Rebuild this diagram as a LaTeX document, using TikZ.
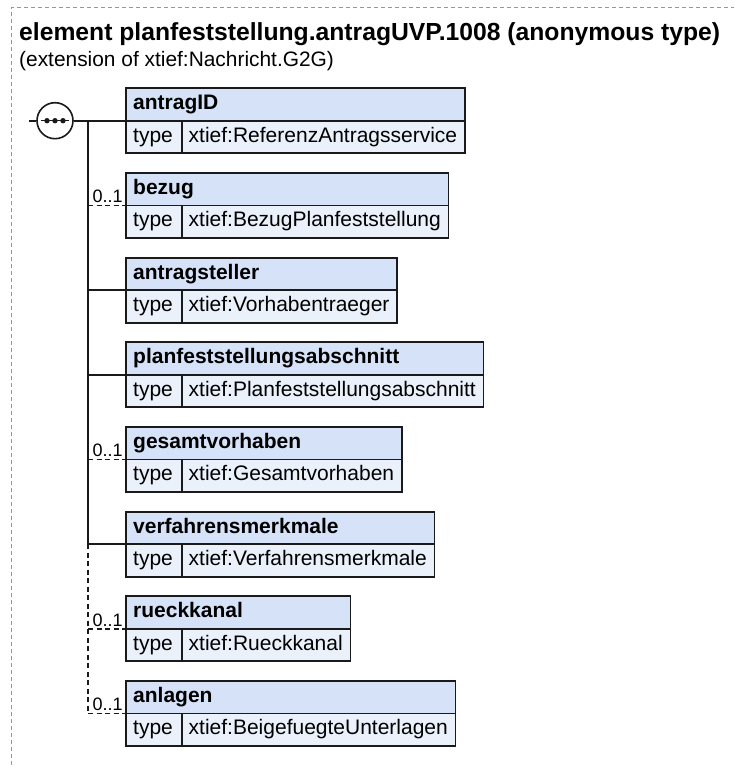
\documentclass[tikz,border=0pt]{standalone}
\usepackage{fontspec}
\setmainfont{Liberation Sans}
\usetikzlibrary{calc,backgrounds}
\definecolor{hdrfill}{RGB}{214,226,247}
\definecolor{rowfill}{RGB}{234,241,251}
\definecolor{edgecol}{RGB}{26,26,26}
\definecolor{framegray}{RGB}{150,150,150}
\tikzset{
  nametext/.style={anchor=base west,inner sep=0pt,font=\bfseries\fontsize{21}{25}\selectfont,text=black},
  typetext/.style={anchor=base west,inner sep=0pt,font=\fontsize{21}{25}\selectfont,text=black},
  occtext/.style={anchor=base west,inner sep=0pt,font=\fontsize{18}{22}\selectfont,text=black},
  hdrbox/.style={draw=edgecol,fill=hdrfill,line width=1.8pt},
  rowbox/.style={draw=edgecol,fill=rowfill,line width=1.8pt},
  boxline/.style={draw=edgecol,line width=1.8pt},
  conn/.style={draw=edgecol,line width=1.7pt},
  optconn/.style={draw=edgecol,line width=1.7pt,dash pattern=on 5pt off 3.5pt},
  seqc/.style={circle,draw=edgecol,fill=white,line width=1.6pt,minimum size=36pt,inner sep=0pt},
  framel/.style={draw=framegray,line width=1pt,dash pattern=on 4pt off 3pt}
}
\newcommand{\xelem}[4]{%
  \node[nametext] (#1-n) at (133,#2+21.5) {#3};
  \node[typetext] (#1-k) at (133,#2+53.9) {type};
  \node[typetext] (#1-t) at (188.5,#2+53.9) {#4};
  \coordinate (#1-tl) at (125.7,#2);
  \coordinate (#1-ml) at (125.7,#2+32.4);
  \coordinate (#1-bl) at (125.7,#2+65);
  \coordinate (#1-dv) at (181.7,#2+32.4);
  \coordinate (#1-r) at ($(#1-t.east)+(7.5,0)$);
  \begin{pgfonlayer}{background}
    \draw[hdrbox] (#1-tl) rectangle (#1-r |- #1-ml);
    \draw[rowbox] (#1-ml) rectangle (#1-r |- #1-bl);
    \draw[boxline] (#1-dv) -- (#1-dv |- #1-bl);
  \end{pgfonlayer}
  \coordinate (#1-bus) at (88,#2+32.4);
}
\begin{document}
\begin{tikzpicture}[x=1pt,y=-1pt]
\useasboundingbox (0,0) rectangle (734,765);
% frame
\coordinate (fbl) at (11,765);
\coordinate (ftl) at (11,8);
\coordinate (ftr) at (734,8);
\draw[framel] (fbl) -- (ftl) -- (ftr);
% title
\node[anchor=base west,inner sep=0pt,font=\bfseries\fontsize{24.7}{28}\selectfont] (title) at (19,41) {element planfeststellung.antragUVP.1008 (anonymous type)};
\node[anchor=base west,inner sep=0pt,font=\fontsize{20.9}{25}\selectfont] (subtitle) at (19,66.5) {(extension of xtief:Nachricht.G2G)};
% elements
\xelem{antragID}{88.3}{antragID}{xtief:ReferenzAntragsservice}
\xelem{bezug}{173.0}{bezug}{xtief:BezugPlanfeststellung}
\xelem{antragsteller}{257.6}{antragsteller}{xtief:Vorhabentraeger}
\xelem{pfa}{342.3}{planfeststellungsabschnitt}{xtief:Planfeststellungsabschnitt}
\xelem{gesamt}{427.0}{gesamtvorhaben}{xtief:Gesamtvorhaben}
\xelem{verf}{511.7}{verfahrensmerkmale}{xtief:Verfahrensmerkmale}
\xelem{rueck}{596.3}{rueckkanal}{xtief:Rueckkanal}
\xelem{anlagen}{681.0}{anlagen}{xtief:BeigefuegteUnterlagen}
% sequence compositor
\node[seqc] (seq) at (55,120.7) {};
\coordinate (inlet) at (29,120.7);
\draw[conn] (inlet) -- (seq.west);
\draw[edgecol,line width=1.4pt] ($(seq.center)+(-14,0)$) -- ($(seq.center)+(14,0)$);
\fill[edgecol] ($(seq.center)+(-8,0)$) circle (2.7pt);
\fill[edgecol] (seq.center) circle (2.7pt);
\fill[edgecol] ($(seq.center)+(8,0)$) circle (2.7pt);
% connectors
\draw[conn] (seq.east) -- (antragID-ml);
\draw[conn] (antragID-bus) -- (verf-bus);
\draw[optconn] (verf-bus) -- (anlagen-bus);
\draw[optconn] (bezug-bus) -- (bezug-ml);
\draw[conn] (antragsteller-bus) -- (antragsteller-ml);
\draw[conn] (pfa-bus) -- (pfa-ml);
\draw[optconn] (gesamt-bus) -- (gesamt-ml);
\draw[conn] (verf-bus) -- (verf-ml);
\draw[optconn] (rueck-bus) -- (rueck-ml);
\draw[optconn] (anlagen-bus) -- (anlagen-ml);
% occurrence labels
\node[occtext] (bezug-o) at ($(bezug-bus)+(4.5,-2.5)$) {0..1};
\node[occtext] (gesamt-o) at ($(gesamt-bus)+(4.5,-2.5)$) {0..1};
\node[occtext] (rueck-o) at ($(rueck-bus)+(4.5,-2.5)$) {0..1};
\node[occtext] (anlagen-o) at ($(anlagen-bus)+(4.5,-2.5)$) {0..1};
\end{tikzpicture}
\end{document}
